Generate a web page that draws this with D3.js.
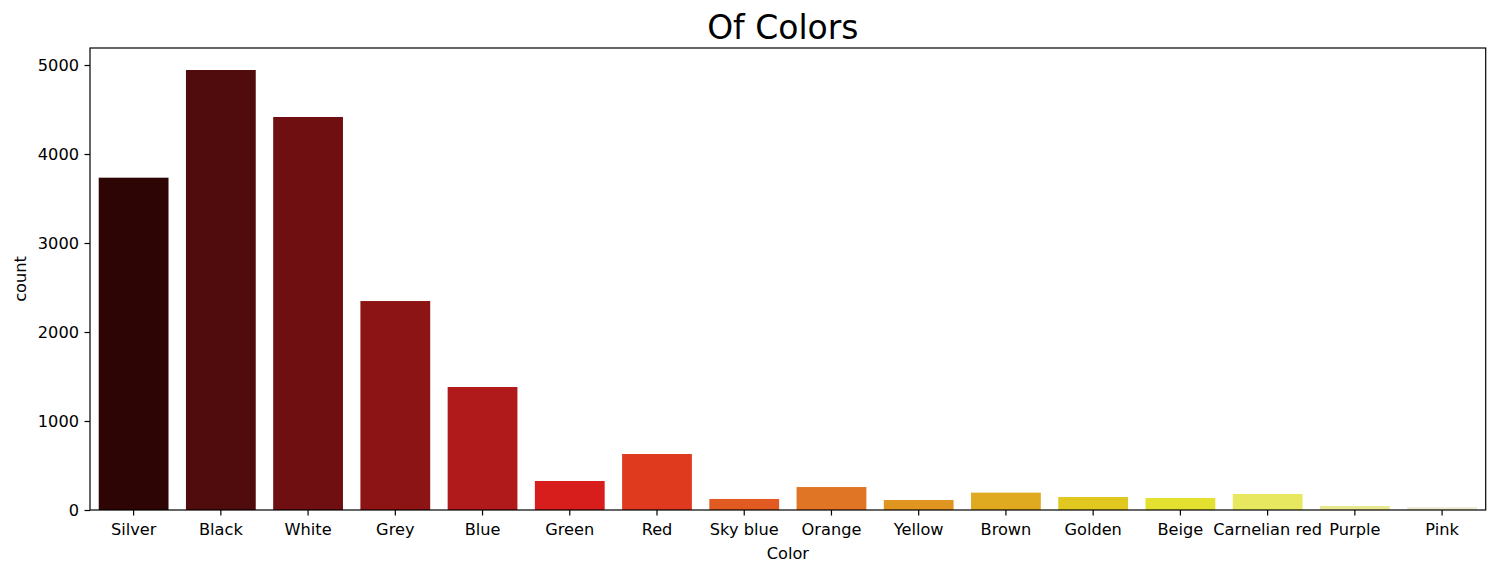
<!DOCTYPE html>
<html lang="en">
<head>
    <meta charset="UTF-8">
    <title>Of Colors</title>
    <script src="https://d3js.org/d3.v7.min.js"></script>
    <style>
        body { margin: 0; background: #fff; }
        text { font-family: "DejaVu Sans", sans-serif; fill: #000; }
    </style>
</head>
<body>
    <div class="chart"></div>
    <script>
        const categories = ["Silver", "Black", "White", "Grey", "Blue", "Green", "Red", "Sky blue",
            "Orange", "Yellow", "Brown", "Golden", "Beige", "Carnelian red", "Purple", "Pink"];
        const counts = [3734, 4944, 4416, 2348, 1382, 326, 629, 124, 258, 112, 195, 146, 135, 180, 45, 30];
        const barColors = ["#2e0505", "#500c0c", "#6f0f11", "#8c1414", "#b01a1a", "#d81d1d", "#e03a1e", "#e05a22",
            "#e07526", "#e09520", "#e0aa20", "#e0c820", "#e4e030", "#e8e860", "#e8e890", "#ece8c8"];
        const yTicks = [0, 1000, 2000, 3000, 4000, 5000];

        const width = 1497;
        const height = 576;
        const margin = { top: 48, right: 11.3, bottom: 66, left: 90 };

        const svg = d3.select('.chart')
            .append('svg')
            .attr('width', width)
            .attr('height', height);

        const x = d3.scaleBand()
            .domain(categories)
            .range([margin.left, width - margin.right])
            .paddingInner(0.2)
            .paddingOuter(0.1);

        const y = d3.scaleLinear()
            .domain([0, d3.max(counts) * 1.05])
            .range([height - margin.bottom, margin.top]);

        svg.selectAll('rect.bar')
            .data(categories)
            .enter()
            .append('rect')
            .attr('class', 'bar')
            .attr('x', d => x(d))
            .attr('width', x.bandwidth())
            .attr('y', (d, i) => y(counts[i]))
            .attr('height', (d, i) => y(0) - y(counts[i]))
            .attr('fill', (d, i) => barColors[i]);

        // axes
        const xAxis = svg.append('g')
            .attr('transform', `translate(0,${y(0)})`)
            .call(d3.axisBottom(x).tickSize(5.5).tickPadding(8));
        const yAxis = svg.append('g')
            .attr('transform', `translate(${margin.left},0)`)
            .call(d3.axisLeft(y).tickValues(yTicks).tickFormat(d3.format('d')).tickSize(5.5).tickPadding(5.5));

        [xAxis, yAxis].forEach(g => {
            g.select('.domain').remove();
            g.selectAll('line').attr('stroke', '#000').attr('stroke-width', 1.2);
            g.selectAll('text').style('font-size', '16.2px').attr('fill', '#000');
        });

        // frame
        svg.append('rect')
            .attr('x', margin.left)
            .attr('y', margin.top)
            .attr('width', width - margin.right - margin.left)
            .attr('height', height - margin.bottom - margin.top)
            .attr('fill', 'none')
            .attr('stroke', '#000')
            .attr('stroke-width', 1.2);

        svg.append('text')
            .attr('x', (margin.left + width - margin.right) / 2 - 5)
            .attr('y', 38.5)
            .attr('text-anchor', 'middle')
            .style('font-size', '33px')
            .text('Of Colors');

        svg.append('text')
            .attr('x', (margin.left + width - margin.right) / 2)
            .attr('y', 559)
            .attr('text-anchor', 'middle')
            .style('font-size', '16.2px')
            .text('Color');

        svg.append('text')
            .attr('transform', `translate(26,${(margin.top + height - margin.bottom) / 2}) rotate(-90)`)
            .attr('text-anchor', 'middle')
            .style('font-size', '16.2px')
            .text('count');
    </script>
</body>
</html>
